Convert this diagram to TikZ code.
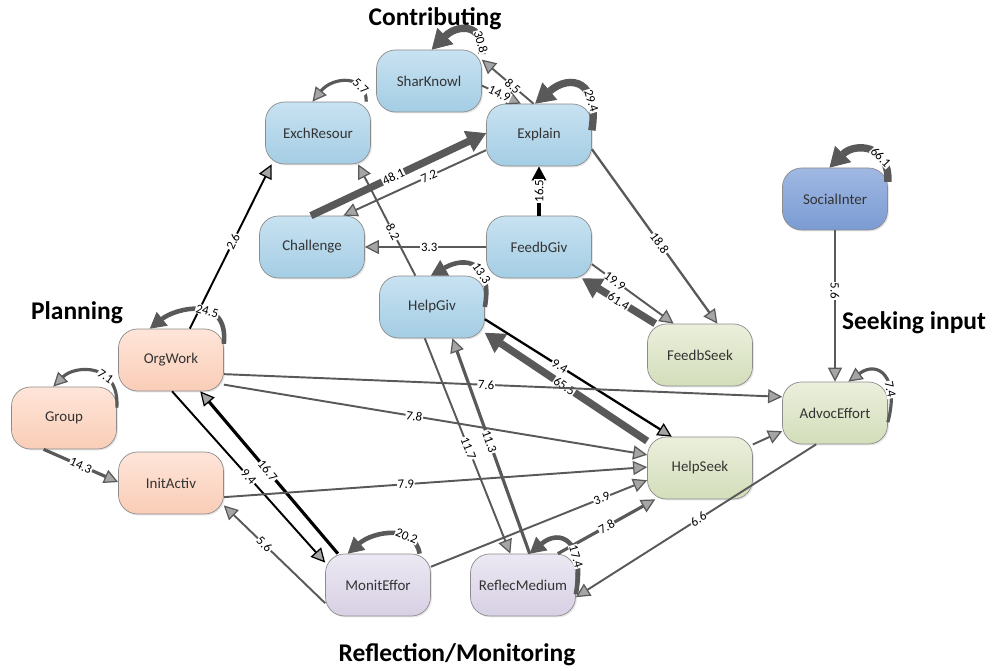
\documentclass[tikz,border=0pt]{standalone}
\usepackage{fontspec}
\setmainfont{Carlito}
\usetikzlibrary{arrows.meta,shadows}
\definecolor{edgegray}{RGB}{89,89,89}
\definecolor{tipgray}{RGB}{165,165,165}
\definecolor{bluetop}{RGB}{200,226,241}
\definecolor{bluebot}{RGB}{164,205,228}
\definecolor{socialtop}{RGB}{160,184,226}
\definecolor{socialbot}{RGB}{122,155,211}
\definecolor{peachtop}{RGB}{254,229,217}
\definecolor{peachbot}{RGB}{250,205,183}
\definecolor{greentop}{RGB}{235,239,220}
\definecolor{greenbot}{RGB}{211,222,186}
\definecolor{lavtop}{RGB}{236,232,243}
\definecolor{lavbot}{RGB}{215,208,228}
\begin{document}
\begin{tikzpicture}[x=0.02cm, y=-0.02cm,
                    every node/.style={font=\fontsize{8.5}{10}\selectfont},
                    state/.style={draw=black!45, rounded corners=0.38cm,
                                  minimum width=2.1cm, minimum height=1.24cm, text=black!80,
                                  drop shadow={opacity=0.2, shadow xshift=0.8pt, shadow yshift=-0.8pt}},
                    contrib/.style={state, top color=bluetop, bottom color=bluebot},
                    social/.style={state, top color=socialtop, bottom color=socialbot},
                    plan/.style={state, top color=peachtop, bottom color=peachbot},
                    seek/.style={state, top color=greentop, bottom color=greenbot},
                    reflect/.style={state, top color=lavtop, bottom color=lavbot},
                    title/.style={font=\fontsize{14.5}{17}\selectfont\bfseries},
                    edge/.style={draw=edgegray, line width=1.1pt,
                                 -{Triangle[length=8pt, width=8pt, fill=tipgray, line width=0.7pt]}},
                    bedge/.style={edge, draw=black},
                    lw2/.style={line width=1.8pt},
                    lw3/.style={line width=2.6pt,
                                -{Triangle[length=9pt, width=10pt, fill=edgegray, line width=0.5pt]}},
                    lw4/.style={line width=4.2pt,
                                -{Triangle[length=11pt, width=13pt, fill=edgegray, line width=0.5pt]}},
                    lbl/.style={font=\fontsize{7.3}{8}\selectfont, fill=white, inner sep=0.4pt, sloped, text=black}]
  \useasboundingbox (0,0) rectangle (994,671);
  \node[title] (contributing) at (435,19) {Contributing};
  \node[title] (planning) at (77,313) {Planning};
  \node[title] (seeking_input) at (914,323) {Seeking input};
  \node[title] (reflection) at (457,655) {Reflection/Monitoring};
  \node[contrib] (shar_knowl) at (429,81) {SharKnowl};
  \node[contrib] (exch_resour) at (318,133) {ExchResour};
  \node[contrib] (explain) at (539,135) {Explain};
  \node[contrib] (challenge) at (312,247) {Challenge};
  \node[contrib] (feedb_giv) at (539,247) {FeedbGiv};
  \node[contrib] (help_giv) at (432,307) {HelpGiv};
  \node[social] (social_inter) at (835,199) {SocialInter};
  \node[seek] (feedb_seek) at (700,355) {FeedbSeek};
  \node[seek] (advoc_effort) at (835,413) {AdvocEffort};
  \node[seek] (help_seek) at (700,468) {HelpSeek};
  \node[plan] (org_work) at (171,360) {OrgWork};
  \node[plan] (group) at (64,418) {Group};
  \node[plan] (init_activ) at (171,483) {InitActiv};
  \node[reflect] (monit_effor) at (378,585) {MonitEffor};
  \node[reflect] (reflec_medium) at (523,585) {ReflecMedium};
  \draw[edge, lw4] (challenge.92) -- node[lbl, pos=.47] {48.1} (explain.178);
  \draw[edge] (explain.196) -- node[lbl, pos=.4] {7.2} (challenge.45);
  \draw[edge] (explain.100) -- node[lbl, pos=.4] {8.5} (shar_knowl.22);
  \draw[edge] (shar_knowl.-5) -- node[lbl, pos=.45] {14.9} (explain.120);
  \draw[bedge, lw2, -{Triangle[length=8pt, width=8pt]}] (feedb_giv.north) -- node[lbl, pos=.5] {16.5} (explain.south);
  \draw[edge, line width=1.3pt] (explain.-15) -- node[lbl, pos=.54] {18.8} (feedb_seek.61);
  \draw[edge] (feedb_giv.west) -- node[lbl, pos=.47] {3.3} (challenge.east);
  \draw[edge] (feedb_giv.-18) -- node[lbl, pos=.28] {19.9} (feedb_seek.130);
  \draw[edge, lw4] (feedb_seek.145) -- node[lbl, pos=.5] {61.4} (feedb_giv.-36);
  \draw[edge] (help_giv.118) -- node[lbl, pos=.39] {8.2} (exch_resour.-38);
  \draw[bedge] (org_work.59) -- node[lbl, pos=.53] {2.6} (exch_resour.214);
  \draw[bedge, line width=1.3pt] (help_giv.-13) -- node[lbl, pos=.4] {9.4} (help_seek.132);
  \draw[edge, lw4] (help_seek.153) -- node[lbl, pos=.51] {65.5} (help_giv.-26);
  \draw[edge] (help_giv.257) -- node[lbl, pos=.51] {11.7} (reflec_medium.112);
  \draw[edge, lw2] (reflec_medium.78) -- node[lbl, pos=.52] {11.3} (help_giv.-57);
  \draw[edge, lw2] (reflec_medium.42) -- node[lbl, pos=.5] {7.8} (help_seek.215);
  \draw[edge] (monit_effor.19) -- node[lbl, pos=.79] {3.9} (help_seek.193);
  \draw[edge] (advoc_effort.239) -- node[lbl, pos=.49] {6.6} (reflec_medium.-13);
  \draw[edge] (monit_effor.199) -- node[lbl, pos=.6] {5.6} (init_activ.-23);
  \draw[bedge] (org_work.272) -- node[lbl, pos=.5] {9.4} (monit_effor.157);
  \draw[bedge, lw2] (monit_effor.142) -- node[lbl, pos=.51] {16.7} (org_work.-47);
  \draw[edge, lw2] (group.237) -- node[lbl, pos=.5] {14.3} (init_activ.179);
  \draw[edge] (org_work.-15) -- node[lbl, pos=.47] {7.6} (advoc_effort.163);
  \draw[edge] (org_work.-25) -- node[lbl, pos=.45] {7.8} (help_seek.166);
  \draw[edge] (init_activ.-15) -- node[lbl, pos=.43] {7.9} (help_seek.179);
  \draw[edge] (help_seek.24) -- (advoc_effort.199);
  \draw[edge] (social_inter.south) -- node[lbl, pos=.4] {5.6} (advoc_effort.north);
  \draw[edge, lw4] (shar_knowl.27) .. controls +(2,-32) and +(25,-25) .. (shar_knowl.85) node[lbl, pos=.15] {30.8};
  \draw[edge, lw4] (explain.5) .. controls +(8,-50) and +(35,-30) .. (explain.97) node[lbl, pos=.25] {29.4};
  \draw[edge, lw2] (exch_resour.33) .. controls +(0,-28) and +(20,-25) .. (exch_resour.100) node[lbl, pos=.25] {5.7};
  \draw[edge, lw3] (help_giv.0) .. controls +(8,-45) and +(35,-20) .. (help_giv.92) node[lbl, pos=.35] {13.3};
  \draw[edge, lw3] (reflec_medium.-10) .. controls +(10,-55) and +(30,-25) .. (reflec_medium.78) node[lbl, pos=.3] {17.4};
  \draw[edge, lw3] (monit_effor.37) .. controls +(-5,-30) and +(25,-22) .. (monit_effor.134) node[lbl, pos=.3] {20.2};
  \draw[edge, lw3] (org_work.17) .. controls +(5,-50) and +(25,-20) .. (org_work.124) node[lbl, pos=.4] {24.5};
  \draw[edge, lw2] (group.11) .. controls +(3,-45) and +(22,-22) .. (group.109) node[lbl, pos=.35] {7.1};
  \draw[edge, lw4] (social_inter.18) .. controls +(2,-38) and +(25,-25) .. (social_inter.100) node[lbl, pos=.3] {66.1};
  \draw[edge, lw2] (advoc_effort.-10) .. controls +(12,-45) and +(30,-22) .. (advoc_effort.67) node[lbl, pos=.3] {7.4};
\end{tikzpicture}
\end{document}
